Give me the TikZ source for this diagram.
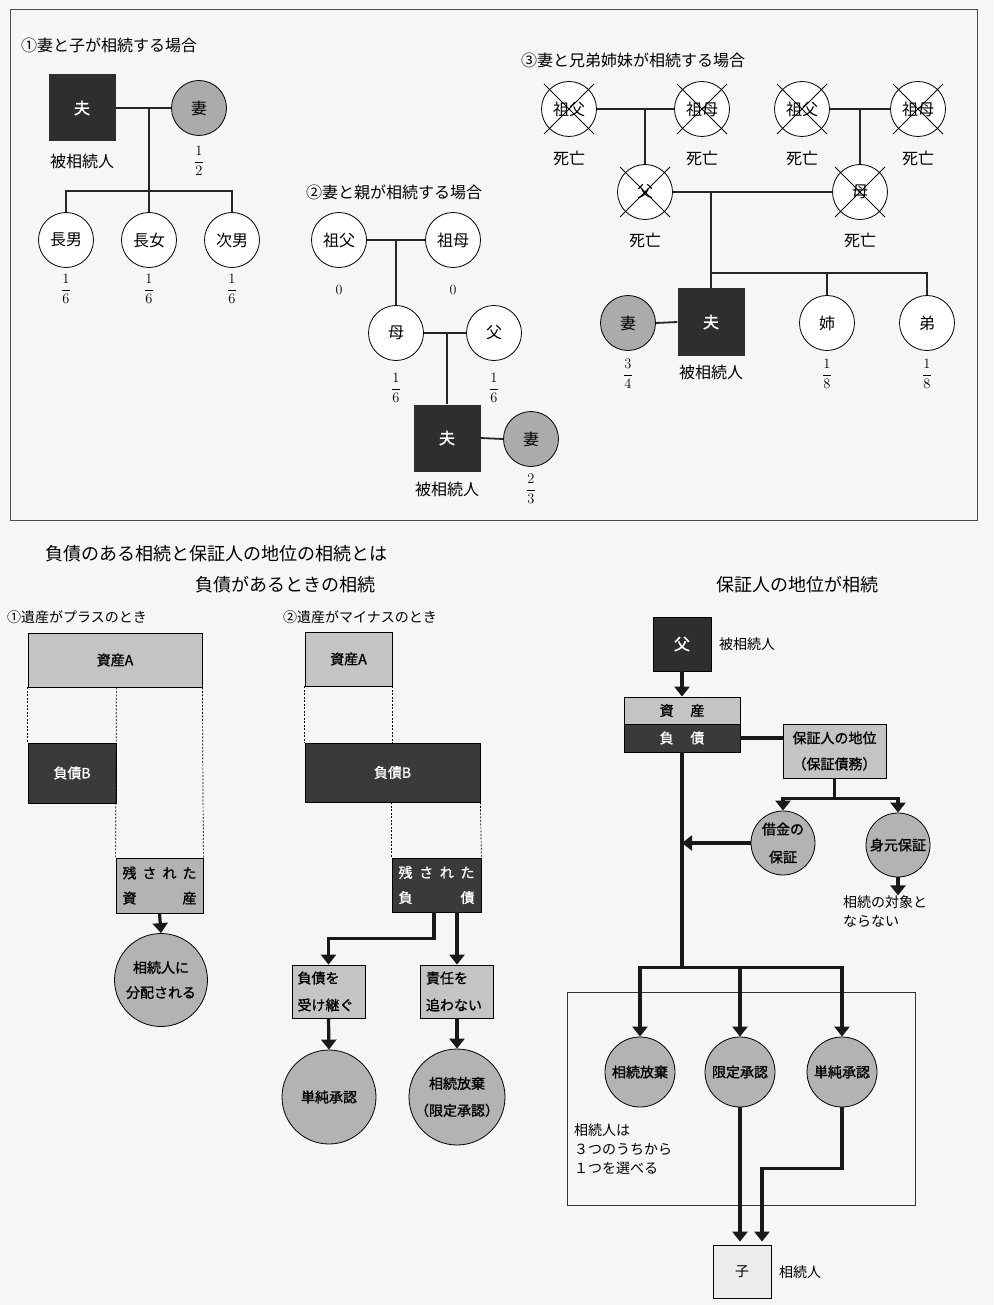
\documentclass[tikz,border=0pt]{standalone}
\usepackage{amsmath}
\usepackage{fontspec}
\usetikzlibrary{arrows.meta}
\newfontfamily\jp{Noto Sans CJK JP}
\newfontfamily\jpb{Noto Sans CJK JP}[FakeBold=1.2]
\definecolor{bgc}{HTML}{F6F6F6}
\definecolor{dk}{HTML}{2E2E2E}
\definecolor{dkb}{HTML}{3A3A3A}
\definecolor{wg}{HTML}{ABABAB}
\definecolor{lg}{HTML}{C4C4C4}
\definecolor{mg}{HTML}{B3B3B3}
\definecolor{kg}{HTML}{ECECEC}
\newcommand\fsT{\jp\fontsize{16}{19}\selectfont}
\newcommand\fsH{\jp\fontsize{18}{21}\selectfont}
\newcommand\fsS{\jp\fontsize{14}{17}\selectfont}
\newcommand\fsB{\jpb\fontsize{14}{17}\selectfont}
\newcommand\fsN{\fontsize{14}{16}\selectfont}
\begin{document}
\begin{tikzpicture}[x=1pt,y=-1pt,
  famc/.style={circle,draw=black,line width=0.8pt,minimum size=55pt,inner sep=0pt,fill=white,font=\fsT},
  wife/.style={famc,fill=wg},
  husb/.style={rectangle,fill=dk,minimum size=67pt,inner sep=0pt,text=white,font=\jpb\fontsize{16}{19}\selectfont},
  famline/.style={line width=1.8pt,draw=black!85},
  xline/.style={line width=0.9pt,draw=black},
  lbl/.style={inner sep=0pt,font=\fsT},
  frac/.style={inner sep=0pt,font=\fsN},
  abox/.style={rectangle,draw=black,line width=0.8pt,inner sep=0pt,font=\fsB},
  dbox/.style={abox,fill=dkb,text=white},
  gbox/.style={abox,fill=lg},
  mbox/.style={abox,fill=mg},
  bcirc/.style={circle,draw=black,line width=0.8pt,fill=mg,inner sep=0pt,font=\jpb\fontsize{14}{25}\selectfont,align=center},
  dotln/.style={line width=0.7pt,dash pattern=on 2pt off 1.5pt},
  arr/.style={line width=3.2pt,draw=black!90,-{Triangle[width=15pt,length=10pt]}},
  tline/.style={line width=3.2pt,draw=black!90},
  txt/.style={inner sep=0pt}
]
\fill[bgc] (0,0) rectangle (994,1305);
\useasboundingbox (0,0) rectangle (994,1305);

% ===== top frame =====
\draw[line width=0.8pt,draw=black!70] (10,9) rectangle (977,520);

% ----- section 1 -----
\node[lbl,anchor=west] (t1) at (21,45) {①妻と子が相続する場合};
\node[husb] (h1) at (82,108) {夫};
\node[wife] (w1) at (199,108) {妻};
\node[lbl] (h1l) at (82,161) {被相続人};
\node[frac] (w1f) at (199,161) {$\dfrac{1}{2}$};
\node[famc] (c1) at (66,240) {長男};
\node[famc] (c2) at (149,240) {長女};
\node[famc] (c3) at (232,240) {次男};
\node[frac] (c1f) at (66,289) {$\dfrac{1}{6}$};
\node[frac] (c2f) at (149,289) {$\dfrac{1}{6}$};
\node[frac] (c3f) at (232,289) {$\dfrac{1}{6}$};
\draw[famline] (h1.east) -- (w1.west);
\coordinate (j1) at (149,108);
\coordinate (j1b) at (149,191);
\draw[famline] (j1) -- (j1b);
\draw[famline] (c1.north) |- (j1b) -| (c3.north);
\draw[famline] (j1b) -- (c2.north);

% ----- section 2 -----
\node[lbl,anchor=west] (t2) at (306,192) {②妻と親が相続する場合};
\node[famc] (gf2) at (339,240) {祖父};
\node[famc] (gm2) at (453,240) {祖母};
\node[frac] (gf2f) at (339,290) {0};
\node[frac] (gm2f) at (453,290) {0};
\node[famc] (mo2) at (396,333) {母};
\node[famc] (fa2) at (494,333) {父};
\node[frac] (mo2f) at (396,388) {$\dfrac{1}{6}$};
\node[frac] (fa2f) at (494,388) {$\dfrac{1}{6}$};
\node[husb] (h2) at (447,438) {夫};
\node[wife] (w2) at (531,439) {妻};
\node[lbl] (h2l) at (447,489) {被相続人};
\node[frac] (w2f) at (531,489) {$\dfrac{2}{3}$};
\draw[famline] (gf2.east) -- (gm2.west);
\coordinate (j2) at (396,240);
\draw[famline] (j2) -- (mo2.north);
\draw[famline] (mo2.east) -- (fa2.west);
\coordinate (j3) at (447,333);
\draw[famline] (j3) -- (h2.north);
\draw[famline] (h2.east) -- (w2.west);

% ----- section 3 -----
\node[lbl,anchor=west] (t3) at (521,60) {③妻と兄弟姉妹が相続する場合};
\node[famc] (a1) at (569,109) {祖父};
\node[famc] (a2) at (702,109) {祖母};
\node[famc] (a3) at (802,109) {祖父};
\node[famc] (a4) at (918,109) {祖母};
\node[famc] (f3) at (645,192) {父};
\node[famc] (m3) at (860,192) {母};
\foreach \n in {a1,a2,a3,a4,f3,m3}{
  \draw[xline] ([shift={(-25,-25)}]\n.center) -- ([shift={(25,25)}]\n.center);
  \draw[xline] ([shift={(-25,25)}]\n.center) -- ([shift={(25,-25)}]\n.center);
}
\node[lbl] (d1) at (569,158) {死亡};
\node[lbl] (d2) at (702,158) {死亡};
\node[lbl] (d3) at (802,158) {死亡};
\node[lbl] (d4) at (918,158) {死亡};
\node[lbl] (d5) at (645,240) {死亡};
\node[lbl] (d6) at (860,240) {死亡};
\node[wife] (w3) at (628,323) {妻};
\node[husb] (h3) at (711,322) {夫};
\node[famc] (s3) at (827,323) {姉};
\node[famc] (b3) at (927,323) {弟};
\node[frac] (w3f) at (628,374) {$\dfrac{3}{4}$};
\node[lbl] (h3l) at (711,372) {被相続人};
\node[frac] (s3f) at (827,374) {$\dfrac{1}{8}$};
\node[frac] (b3f) at (927,374) {$\dfrac{1}{8}$};
\draw[famline] (a1.east) -- (a2.west);
\draw[famline] (a3.east) -- (a4.west);
\coordinate (k1) at (645,109);
\coordinate (k2) at (860,109);
\draw[famline] (k1) -- (f3.north);
\draw[famline] (k2) -- (m3.north);
\draw[famline] (f3.east) -- (m3.west);
\coordinate (k3) at (711,192);
\coordinate (k4) at (711,273);
\draw[famline] (k3) -- (h3.north);
\draw[famline] (k4) -| (b3.north);
\draw[famline] (s3.north |- k4) -- (s3.north);
\draw[famline] (w3.east) -- (h3.west);

% ===== bottom titles =====
\node[txt,anchor=west,font=\fsH] (bt) at (45,554) {負債のある相続と保証人の地位の相続とは};
\node[txt,anchor=west,font=\fsH] (bt1) at (195,585) {負債があるときの相続};
\node[txt,anchor=west,font=\fsH] (bt2) at (716,585) {保証人の地位が相続};
\node[txt,anchor=west,font=\fsS] (p1) at (7,617) {①遺産がプラスのとき};
\node[txt,anchor=west,font=\fsS] (p2) at (283,617) {②遺産がマイナスのとき};

% ----- bottom left -----
\node[gbox,minimum width=174pt,minimum height=54pt] (sa) at (115,660) {資産A};
\node[dbox,minimum width=88pt,minimum height=60pt] (fb) at (72,773) {負債B};
\node[mbox,minimum width=87pt,minimum height=55pt,align=center,font=\jpb\fontsize{14}{25}\selectfont] (rs) at (159.5,885.5)
  {\makebox[74pt]{残\hfill さ\hfill れ\hfill た}\\\makebox[74pt]{資\hfill 産}};
\node[bcirc,minimum size=93pt] (dist) at (161,980) {相続人に\\分配される};
\draw[dotln] (sa.south west) -- (fb.north west);
\draw[dotln] (fb.north east |- sa.south) -- (rs.north west);
\draw[dotln] (sa.south east) -- (rs.north east);
\draw[arr] (rs.south) -- (dist.north);

% ----- bottom middle -----
\node[gbox,minimum width=87pt,minimum height=54pt] (sa2) at (348.5,659) {資産A};
\node[dbox,minimum width=175pt,minimum height=59pt] (fb2) at (392.5,772.5) {負債B};
\node[dbox,minimum width=89pt,minimum height=54pt,align=center,font=\jpb\fontsize{14}{25}\selectfont] (rd) at (436.5,885)
  {\makebox[76pt]{残\hfill さ\hfill れ\hfill た}\\\makebox[76pt]{負\hfill 債}};
\node[gbox,minimum width=73pt,minimum height=53pt,align=left,text width=62pt,font=\jpb\fontsize{14}{27}\selectfont] (bb1) at (328.5,991.5) {負債を\\受け継ぐ};
\node[gbox,minimum width=73pt,minimum height=53pt,align=left,text width=62pt,font=\jpb\fontsize{14}{27}\selectfont] (bb2) at (457,991.5) {責任を\\追わない};
\node[bcirc,minimum size=94pt] (cc1) at (329,1097) {単純承認};
\node[bcirc,minimum size=96pt,font=\jpb\fontsize{14}{27}\selectfont] (cc2) at (457,1097) {相続放棄\\（限定承認）};
\draw[dotln] (sa2.south west) -- (fb2.north west);
\draw[dotln] (sa2.south east) -- (sa2.south east |- fb2.north);
\draw[dotln] (rd.north west |- fb2.south) -- (rd.north west);
\draw[dotln] (fb2.south east) -- (rd.north east);
\draw[arr] ([xshift=-2.5pt]rd.south) -- ++(0,26) -| (bb1.north);
\draw[arr] (bb2.north |- rd.south) -- (bb2.north);
\draw[arr] (bb1.south) -- (cc1.north);
\draw[arr] (bb2.south) -- (cc2.north);

% ----- bottom right -----
\node[abox,fill=dk,text=white,minimum width=58pt,minimum height=54pt,font=\jpb\fontsize{16}{19}\selectfont] (fa) at (682,644) {父};
\node[txt,anchor=west,font=\fsS] (fal) at (719,644) {被相続人};
\node[gbox,minimum width=116pt,minimum height=27pt] (as) at (682,710.5) {資\hspace{1.2em}産};
\node[dbox,minimum width=116pt,minimum height=28pt] (db) at (682,738) {負\hspace{1.2em}債};
\node[gbox,minimum width=103pt,minimum height=54pt,align=center,font=\jpb\fontsize{14}{26}\selectfont] (gs) at (834.5,751) {保証人の地位\\（保証債務）};
\node[bcirc,minimum size=64pt,font=\jpb\fontsize{14}{28}\selectfont] (cd) at (783,843) {借金の\\保証};
\node[bcirc,minimum size=64pt] (ci) at (898,845) {身元保証};
\node[txt,anchor=north west,align=left,font=\jp\fontsize{14}{19}\selectfont] (nt) at (843,895) {相続の対象と\\ならない};
\draw[arr] (fa.south) -- (as.north);
\draw[tline] (db.east) -- (db.east -| gs.west);
\draw[tline] (gs.south) -- ++(0,20) coordinate (g1);
\draw[arr] (g1) -| (cd.north);
\draw[arr] (g1) -| (ci.north);
\draw[arr] (cd.west) -- (cd.west -| db.south);
\draw[arr] (ci.south) -- ++(0,18);
\draw[tline] (db.south) -- ++(0,215) coordinate (tr);
\draw[line width=0.8pt,draw=black!80] (567,992) rectangle (915,1205);
\node[bcirc,minimum size=70pt] (r1) at (640,1072) {相続放棄};
\node[bcirc,minimum size=70pt] (r2) at (740,1072) {限定承認};
\node[bcirc,minimum size=70pt] (r3) at (842,1072) {単純承認};
\draw[arr] (tr) -| (r1.north);
\draw[arr] (tr) -| (r3.north);
\draw[arr] (tr -| r2.north) -- (r2.north);
\node[txt,anchor=north west,align=left,font=\jp\fontsize{14}{19}\selectfont] (ch) at (574,1124) {相続人は\\３つのうちから\\１つを選べる};
\node[abox,fill=kg,minimum width=58pt,minimum height=53pt,font=\fsS] (ko) at (742,1271.5) {子};
\node[txt,anchor=west,font=\fsS] (kol) at (779,1272) {相続人};
\draw[arr,shorten >=3pt] (r2.south) -- (r2.south |- ko.north);
\draw[arr,shorten >=3pt] (r3.south) -- ++(0,61) -| ([xshift=20pt]ko.north);
\end{tikzpicture}
\end{document}
